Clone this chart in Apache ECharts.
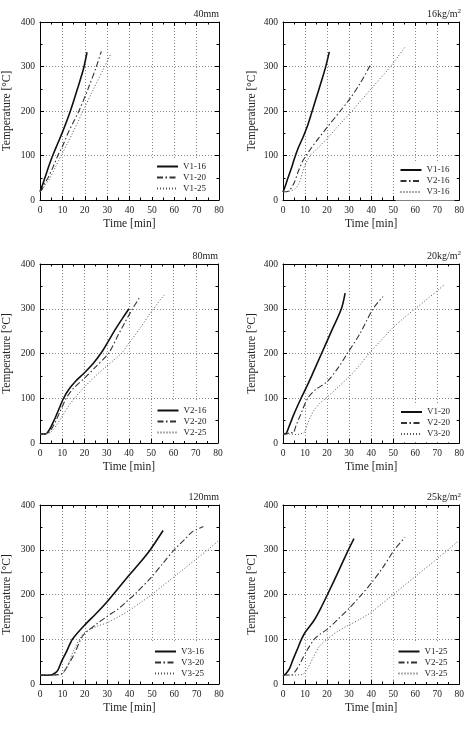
<!DOCTYPE html>
<html>
<head>
<meta charset="utf-8">
<script src="https://cdn.jsdelivr.net/npm/echarts@6/dist/echarts.min.js"></script>
<style>html,body{margin:0;padding:0;background:#fff}#c{width:467px;height:732px}</style>
</head>
<body>
<div id="c"></div>
<script>
// ---------- data ----------
const titleText = ['40mm', '16kg/m', '80mm', '20kg/m', '120mm', '25kg/m'];
const titleSup  = ['', '2', '', '2', '', '2'];
const xAxisName = 'Time [min]';
const yAxisName = 'Temperature [°C]';
const legendNames = [
  ['V1-16', 'V1-20', 'V1-25'],
  ['V1-16', 'V2-16', 'V3-16'],
  ['V2-16', 'V2-20', 'V2-25'],
  ['V1-20', 'V2-20', 'V3-20'],
  ['V3-16', 'V3-20', 'V3-25'],
  ['V1-25', 'V2-25', 'V3-25']
];

// panel 40mm
const p40_V1_16 = [[0,19],[1,32],[2,47],[3,62],[4,77],[5,91],[6,104],[8,128],[10,152],[12,178],[13.3,196],[15,222],[17,254],[19.5,296],[21,332]];
const p40_V1_20 = [[0,18],[1,25],[2,36],[3.6,50],[6,76],[8,100],[10,120],[12.5,150],[15,176],[17.4,200],[21.5,250],[25.2,300],[27.4,334]];
const p40_V1_25 = [[0,18],[1,23],[2.5,35],[4.5,50],[7,75],[9.5,100],[12,125],[14.5,150],[17,176],[19.2,200],[24,250],[28.9,300],[31.6,328]];
// panel 16kg/m2
const p16_V1_16 = [[0,18],[1,31],[2,46],[3,60],[4,74],[5.3,95],[7,118],[9,140],[11,165],[13,196],[15,228],[17,260],[19.3,298],[21,333]];
const p16_V2_16 = [[0,18],[2,19],[3,22],[5,38],[7,65],[9,88],[10.5,100],[13,118],[16,138],[20,163],[26,200],[30,225],[35,262],[39.5,302]];
const p16_V3_16 = [[0,18],[3,20],[5.5,25],[7.5,40],[9.7,75],[12.4,100],[15,113],[20,138],[25,166],[31.3,200],[40,250],[48.8,300],[55.4,344]];
// panel 80mm
const p80_V2_16 = [[0,20],[2.5,20],[4,28],[5.5,42],[7,58],[8.5,76],[10.6,100],[13,120],[16,138],[20,157],[24,178],[28,205],[31,230],[34,255],[37,278],[40,300]];
const p80_V2_20 = [[0,20],[3,21],[5,30],[7,48],[9,70],[11.8,100],[15,122],[20,145],[25,170],[31,202],[35,240],[38,268],[41.6,300],[45,327]];
const p80_V2_25 = [[0,20],[4,22],[6,30],[8,44],[10,60],[12.5,80],[15.5,100],[20,125],[25,150],[30,172],[36.5,200],[40,223],[45,257],[50,293],[56,332]];
// panel 20kg/m2
const p20_V1_20 = [[0,20],[1.5,22],[3,40],[5,65],[8.2,100],[10,118],[13,150],[17.5,200],[22,250],[26.5,300],[28.2,335]];
const p20_V2_20 = [[0,20],[2,21],[3.5,24],[4.5,22],[6,40],[8.2,66],[11.2,100],[15,120],[20,137],[25,168],[29.2,200],[35,245],[40.9,300],[45.4,327]];
const p20_V3_20 = [[0,20],[3,20],[6,19],[9,22],[10,26],[11.2,44],[12.5,58],[14.2,74],[17,90],[19.5,100],[25,125],[30,148],[35,175],[39,200],[45,232],[50,258],[55,280],[60,300],[65,320],[70,340],[73,353]];
// panel 120mm
const p120_V3_16 = [[0,19.5],[4.8,20],[6.6,24],[8,31],[9.6,50],[11.8,72],[14.5,100],[20,132],[25,157],[30,184],[35,214],[40,244],[45,273],[49.3,300],[55,343]];
const p120_V3_20 = [[0,20],[5,20],[8,21],[10,24],[12.5,42],[15.5,69],[18.2,100],[20,113],[25,133],[30,151],[35,168],[40,190],[42.3,200],[50,240],[55,270],[60,300],[65,325],[68,340],[70,345],[73,352]];
const p120_V3_25 = [[0,20],[5,20],[8,20],[10.3,24],[12.5,42],[14.8,72],[17.7,100],[20,115],[25,128],[30,137],[35,150],[40,165],[45,182],[50,200],[55,220],[60,240],[65,260],[70,280],[75,300],[80,321]];
// panel 25kg/m2
const p25_V1_25 = [[0,18],[1.5,24],[3,35],[4.5,54],[6.7,80],[8.2,98],[10,115],[12,128],[14.2,143],[17,168],[20.2,200],[25,250],[29.7,300],[32.2,325]];
const p25_V2_25 = [[0,20],[3.7,20],[6,31],[8.2,50],[10.5,72],[14.2,100],[17,112],[20,122],[25,145],[30,169],[35,196],[40,225],[45,258],[50.6,300],[55.4,328]];
const p25_V3_25 = [[0,20],[5,20],[9,22],[11.2,35],[13.5,57],[16.5,84],[20,100],[25,118],[30,132],[35,145],[40,160],[45,180],[50,200],[60,240],[70,280],[80,321]];

const panelData = [
  [p40_V1_16, p40_V1_20, p40_V1_25],
  [p16_V1_16, p16_V2_16, p16_V3_16],
  [p80_V2_16, p80_V2_20, p80_V2_25],
  [p20_V1_20, p20_V2_20, p20_V3_20],
  [p120_V3_16, p120_V3_20, p120_V3_25],
  [p25_V1_25, p25_V2_25, p25_V3_25]
];

// ---------- layout / style ----------
const FONT = "'Liberation Serif','DejaVu Serif','Times New Roman',serif";
const grids = [
  {left: 40, top: 22, width: 179, height: 178},
  {left: 283, top: 22, width: 178, height: 178},
  {left: 40, top: 264, width: 178, height: 179},
  {left: 283, top: 264, width: 178, height: 179},
  {left: 40, top: 505, width: 179, height: 179},
  {left: 283, top: 505, width: 178, height: 179}
];
const titlePos = [
  {right: 248, top: 8}, {right: 6, top: 8},
  {right: 249, top: 250}, {right: 6, top: 250},
  {right: 248, top: 491.5}, {right: 6, top: 491.5}
];
const legendPos = [
  {left: 152, top: 158}, {left: 395.5, top: 161.5},
  {left: 152.5, top: 402}, {left: 396, top: 403.5},
  {left: 150, top: 643}, {left: 393.5, top: 643}
];
const yNameGap = [27, 25, 27, 25, 27, 25];
const lineStyles = [
  {color: '#111', width: 1.6, type: 'solid'},
  {color: '#333', width: 1.1, type: [6, 2.5, 1.5, 2.5]},
  {color: '#555', width: 1, type: [1, 2]}
];

const option = {
  animation: false,
  backgroundColor: '#fff',
  grid: [], xAxis: [], yAxis: [], series: [], legend: [], title: []
};

const axisLineStyle = {show: true, onZero: false, lineStyle: {color: '#000', width: 1}};
const tickStyle = {show: true, inside: true, length: 4, lineStyle: {color: '#000', width: 1}};
const minorStyle = {show: true, splitNumber: 2, length: 2.5, lineStyle: {color: '#000', width: 1}};
const splitStyle = {show: true, lineStyle: {color: '#888', width: 1, type: [1, 2]}};
const labelStyle = {fontSize: 9.5, color: '#222', fontFamily: FONT, margin: 5};

for (let i = 0; i < 6; i++) {
  option.grid.push(Object.assign({containLabel: false}, grids[i]));
  option.xAxis.push({
    gridIndex: i, type: 'value', min: 0, max: 80, interval: 10,
    axisLine: axisLineStyle, axisTick: tickStyle, minorTick: minorStyle,
    axisLabel: labelStyle, splitLine: splitStyle,
    name: xAxisName, nameLocation: 'middle', nameGap: 18,
    nameTextStyle: {fontSize: 11.5, color: '#222', fontFamily: FONT}
  });
  option.xAxis.push({
    gridIndex: i, type: 'value', position: 'top', min: 0, max: 80, interval: 10,
    axisLine: axisLineStyle, axisTick: tickStyle, minorTick: minorStyle,
    axisLabel: {show: false}, splitLine: {show: false}
  });
  option.yAxis.push({
    gridIndex: i, type: 'value', min: 0, max: 400, interval: 100,
    axisLine: axisLineStyle, axisTick: tickStyle, minorTick: minorStyle,
    axisLabel: labelStyle, splitLine: splitStyle,
    name: yAxisName, nameLocation: 'middle', nameGap: yNameGap[i], nameRotate: 90,
    nameTextStyle: {fontSize: 11.5, color: '#222', fontFamily: FONT}
  });
  option.yAxis.push({
    gridIndex: i, type: 'value', position: 'right', min: 0, max: 400, interval: 100,
    axisLine: axisLineStyle, axisTick: tickStyle, minorTick: minorStyle,
    axisLabel: {show: false}, splitLine: {show: false}
  });
  const names = [];
  for (let k = 0; k < 3; k++) {
    const nm = 'p' + i + ':' + legendNames[i][k];
    names.push(nm);
    option.series.push({
      type: 'line', name: nm, xAxisIndex: 2 * i, yAxisIndex: 2 * i,
      data: panelData[i][k], symbol: 'none', showSymbol: false,
      smooth: 0.3, lineStyle: lineStyles[k], itemStyle: {color: lineStyles[k].color},
      z: 3
    });
  }
  option.legend.push(Object.assign({
    orient: 'vertical', data: names, itemWidth: 21, itemHeight: 8, itemGap: 0,
    backgroundColor: '#fff', padding: [3, 5, 3, 4], selectedMode: false,
    itemStyle: {opacity: 0, color: 'rgba(0,0,0,0)', borderWidth: 0},
    formatter: n => n.split(':')[1],
    textStyle: {fontSize: 9, color: '#222', fontFamily: FONT, lineHeight: 11}
  }, legendPos[i]));
  const txt = titleSup[i] ? '{n|' + titleText[i] + '}{s|' + titleSup[i] + '}' : '{n|' + titleText[i] + '}';
  option.title.push(Object.assign({
    text: txt, padding: 0,
    textStyle: {
      fontSize: 10, fontWeight: 'normal', color: '#222', fontFamily: FONT,
      rich: {
        n: {fontSize: 10, fontFamily: FONT, color: '#222', lineHeight: 12},
        s: {fontSize: 7, fontFamily: FONT, color: '#222', lineHeight: 7, verticalAlign: 'top'}
      }
    }
  }, titlePos[i]));
}

const chart = echarts.init(document.getElementById('c'), null, {renderer: 'canvas'});
chart.setOption(option);
</script>
</body>
</html>
